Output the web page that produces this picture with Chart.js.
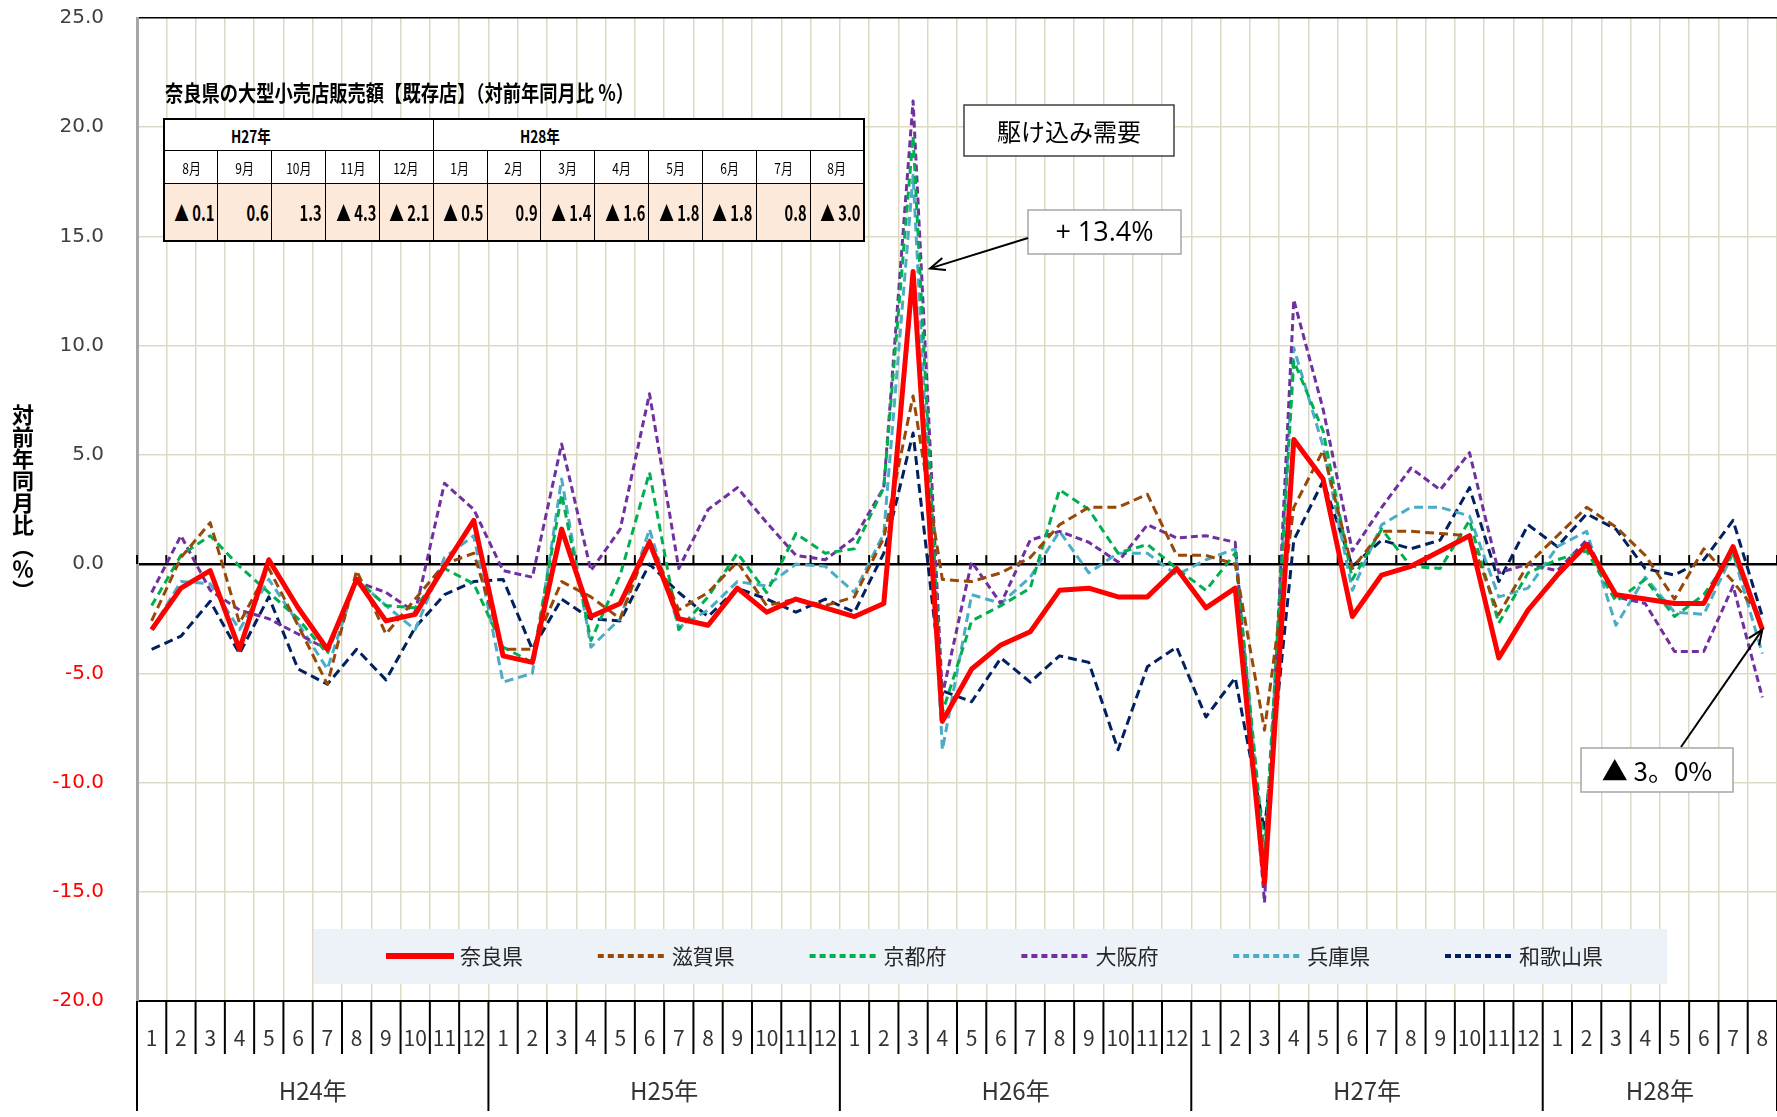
<!DOCTYPE html>
<html lang="ja">
<head>
<meta charset="utf-8">
<script src="https://cdn.jsdelivr.net/npm/chart.js@4.4.1/dist/chart.umd.min.js"></script>
<style>
  html, body { margin: 0; padding: 0; background: #fff; }
  #wrap { position: relative; width: 1777px; height: 1117px; overflow: hidden; }
  #chart { position: absolute; left: 0; top: 0; }
  #ytitle {
    position: absolute; left: 11px; top: 404px;
    writing-mode: vertical-rl; font: bold 22px "Noto Sans CJK JP"; color: #000;
    line-height: 24px;
  }
  #tblTitle {
    position: absolute; left: 165px; top: 75px; white-space: nowrap;
    font: bold 22px "Noto Sans CJK JP"; color: #000;
    transform: scaleX(0.83); transform-origin: left center;
  }
  #tbl {
    position: absolute; left: 163px; top: 118px; width: 702px;
    border-collapse: collapse; table-layout: fixed; border: 2px solid #000;
  }
  #tbl td {
    border: 1.5px solid #000; padding: 0; white-space: nowrap; overflow: hidden;
    font-family: "Noto Sans CJK JP"; color: #000; background: #fff; position: relative;
  }
  #tbl td span { display: inline-block; }
  #tbl tr.yr td { height: 30px; font-weight: bold; font-size: 17px; text-align: left; }
  #tbl tr.yr td span { transform: scaleX(0.8); transform-origin: left center; }
  #tbl tr.mo td { height: 32px; font-size: 15px; text-align: center; }
  #tbl tr.mo td span { transform: scaleX(0.8); }
  #tbl tr.val td { height: 56px; font-weight: bold; font-size: 21px; background: #fde9d9; }
  #tbl tr.val td span {
    position: absolute; right: 3px; top: 50%;
    transform: translateY(-50%) scaleX(0.7); transform-origin: right center;
  }
</style>
</head>
<body>
<div id="wrap">
  <canvas id="chart" width="1777" height="1117"></canvas>
  <div id="ytitle">対前年同月比（％）</div>
  <div id="tblTitle">奈良県の大型小売店販売額【既存店】（対前年同月比 %）</div>
  <table id="tbl"></table>
</div>
<script>
// --- DATA ---
const yearNames = ['H24年', 'H25年', 'H26年', 'H27年', 'H28年'];
const monthsInYear = [12, 12, 12, 12, 8];
const monthLabels = [
    '1', '2', '3', '4', '5', '6', '7', '8', '9', '10', '11', '12',
    '1', '2', '3', '4', '5', '6', '7', '8', '9', '10', '11', '12',
    '1', '2', '3', '4', '5', '6', '7', '8', '9', '10', '11', '12',
    '1', '2', '3', '4', '5', '6', '7', '8', '9', '10', '11', '12',
    '1', '2', '3', '4', '5', '6', '7', '8'
];

const nara = [
    -3.0, -1.1, -0.3, -3.9, 0.2, -2.0, -3.9, -0.7, -2.6, -2.3, -0.1, 2.0,
    -4.2, -4.5, 1.6, -2.4, -1.8, 1.0, -2.5, -2.8, -1.1, -2.2, -1.6, -2.0,
    -2.4, -1.8, 13.4, -7.2, -4.8, -3.7, -3.1, -1.2, -1.1, -1.5, -1.5, -0.2,
    -2.0, -1.1, -14.6, 5.7, 3.9, -2.4, -0.5, -0.1, 0.6, 1.3, -4.3, -2.1,
    -0.5, 0.9, -1.4, -1.6, -1.8, -1.8, 0.8, -3.0
];
const shiga = [
    -2.6, 0.3, 1.9, -2.7, -0.2, -2.8, -5.5, -0.3, -3.2, -1.6, 0.0, 0.5,
    -3.9, -3.9, -0.8, -1.5, -2.5, 1.1, -2.1, -1.3, 0.1, -1.9, -1.6, -1.9,
    -1.5, 1.2, 7.7, -0.7, -0.8, -0.4, 0.3, 1.8, 2.6, 2.6, 3.2, 0.4,
    0.4, 0.0, -7.6, 2.6, 5.2, -0.2, 1.5, 1.5, 1.4, 1.3, -2.3, 0.0,
    1.3, 2.6, 1.7, 0.4, -1.6, 0.7, -0.8, -2.5
];
const kyoto = [
    -1.9, 0.4, 1.3, -0.1, -1.3, -2.5, -4.1, -0.7, -1.9, -2.0, -0.2, -0.9,
    -3.8, -4.5, 3.2, -3.5, -0.5, 4.2, -3.0, -1.5, 0.5, -1.3, 1.4, 0.5,
    0.7, 3.5, 19.6, -6.8, -2.6, -1.9, -1.1, 3.4, 2.5, 0.5, 0.9, -0.2,
    -1.2, 0.5, -13.3, 9.3, 6.1, -0.7, 1.6, -0.1, -0.2, 2.0, -2.7, -0.4,
    0.2, 0.6, -1.7, -0.7, -2.4, -1.4, 0.5, -3.0
];
const osaka = [
    -1.3, 1.3, -1.2, -2.1, -2.5, -3.2, -3.9, -0.8, -1.3, -2.2, 3.7, 2.5,
    -0.3, -0.6, 5.5, -0.3, 1.6, 7.8, -0.2, 2.5, 3.5, 1.9, 0.4, 0.2,
    1.2, 3.5, 21.2, -6.0, 0.1, -1.8, 1.1, 1.5, 1.0, 0.1, 1.8, 1.2,
    1.3, 1.0, -15.5, 12.1, 7.1, 0.6, 2.6, 4.4, 3.4, 5.1, -0.4, 0.0,
    -0.3, 1.1, -1.5, -1.8, -4.0, -4.0, -1.0, -6.1
];
const hyogo = [
    -3.0, -0.8, -0.9, -3.0, -0.7, -2.7, -4.8, -0.7, -1.9, -3.0, 0.3, 1.3,
    -5.4, -5.0, 3.9, -3.8, -2.5, 1.6, -2.9, -2.1, -0.8, -1.0, 0.0, -0.1,
    -1.3, 1.4, 17.8, -8.5, -1.4, -1.8, -0.6, 1.5, -0.4, 0.5, 0.5, -0.5,
    0.2, 0.7, -13.9, 9.9, 5.4, -1.2, 1.8, 2.6, 2.6, 2.2, -1.5, -1.1,
    0.8, 1.5, -2.8, -0.6, -2.2, -2.3, 0.5, -4.1
];
const wakayama = [
    -3.9, -3.3, -1.7, -4.1, -1.5, -4.8, -5.5, -3.9, -5.3, -2.9, -1.4, -0.8,
    -0.7, -3.9, -1.6, -2.5, -2.6, 0.0, -1.3, -2.4, -1.1, -1.6, -2.2, -1.6,
    -2.2, 0.5, 6.0, -5.8, -6.3, -4.3, -5.4, -4.2, -4.5, -8.5, -4.7, -3.8,
    -7.0, -5.2, -12.2, 1.1, 3.8, -0.1, 1.1, 0.7, 1.1, 3.5, -0.8, 1.8,
    0.8, 2.3, 1.6, -0.2, -0.5, 0.2, 2.0, -2.4
];

// table in the upper left: last 13 months of 奈良県
const tableYears = ['H27年', 'H28年'];
const tableYearSpans = [5, 8];
const tableMonths = ['8月', '9月', '10月', '11月', '12月', '1月', '2月', '3月', '4月', '5月', '6月', '7月', '8月'];
const tableValues = nara.slice(-13);

// --- TABLE ---
function buildTable() {
    const tbl = document.getElementById('tbl');
    const pads = [66, 86];
    let html = '<tr class="yr">';
    tableYears.forEach((y, i) => {
        html += `<td colspan="${tableYearSpans[i]}" style="padding-left:${pads[i]}px"><span>${y}</span></td>`;
    });
    html += '</tr><tr class="mo">';
    tableMonths.forEach(m => { html += `<td><span>${m}</span></td>`; });
    html += '</tr><tr class="val">';
    tableValues.forEach(v => {
        const txt = v < 0 ? '▲ ' + Math.abs(v).toFixed(1) : v.toFixed(1);
        html += `<td><span>${txt}</span></td>`;
    });
    html += '</tr>';
    tbl.innerHTML = html;
}

// --- EXTRA DRAWING: axis separators, year labels, legend, callouts ---
function arrow(ctx, x1, y1, x2, y2) {
    const ang = Math.atan2(y2 - y1, x2 - x1);
    ctx.beginPath();
    ctx.moveTo(x1, y1);
    ctx.lineTo(x2, y2);
    ctx.stroke();
    ctx.beginPath();
    ctx.moveTo(x2 - 16 * Math.cos(ang - 0.4), y2 - 16 * Math.sin(ang - 0.4));
    ctx.lineTo(x2, y2);
    ctx.lineTo(x2 - 16 * Math.cos(ang + 0.4), y2 - 16 * Math.sin(ang + 0.4));
    ctx.stroke();
}

function box(ctx, x, y, w, h, border, text, font) {
    ctx.fillStyle = '#fff';
    ctx.fillRect(x, y, w, h);
    ctx.strokeStyle = border;
    ctx.lineWidth = 1.5;
    ctx.strokeRect(x, y, w, h);
    ctx.fillStyle = '#000';
    ctx.font = font;
    ctx.textAlign = 'center';
    ctx.textBaseline = 'middle';
    ctx.fillText(text, x + w / 2, y + h / 2 + 1);
}

const extras = {
    id: 'extras',
    beforeDatasetsDraw(chart) {
        const { ctx, chartArea: a, scales: { y } } = chart;
        const step = (a.right - a.left) / monthLabels.length;
        const y0 = y.getPixelForValue(0);
        ctx.save();
        ctx.strokeStyle = '#000';
        ctx.lineWidth = 2;
        for (let k = 0; k <= monthLabels.length; k++) {
            const bx = a.left + k * step;
            ctx.beginPath();
            ctx.moveTo(bx, y0);
            ctx.lineTo(bx, y0 - 9);
            ctx.stroke();
        }
        ctx.restore();
    },
    afterDatasetsDraw(chart) {
        const { ctx, chartArea: a, scales: { x, y } } = chart;
        const step = (a.right - a.left) / monthLabels.length;
        ctx.save();

        // month / year separators below the plot
        const yearEdges = [0];
        monthsInYear.forEach(m => yearEdges.push(yearEdges[yearEdges.length - 1] + m));
        ctx.strokeStyle = '#000';
        ctx.lineWidth = 2;
        for (let k = 0; k <= monthLabels.length; k++) {
            const bx = a.left + k * step;
            const len = yearEdges.includes(k) ? 110 : 53;
            ctx.beginPath();
            ctx.moveTo(bx, a.bottom);
            ctx.lineTo(bx, a.bottom + len);
            ctx.stroke();
        }
        ctx.fillStyle = '#333';
        ctx.font = '24px "Noto Sans CJK JP"';
        ctx.textAlign = 'center';
        ctx.textBaseline = 'middle';
        yearNames.forEach((name, i) => {
            const cx = a.left + (yearEdges[i] + yearEdges[i + 1]) / 2 * step;
            ctx.fillText(name, cx, a.bottom + 90);
        });

        // legend
        ctx.fillStyle = '#edf1f8';
        ctx.fillRect(314, 929, 1353, 55);
        chart.data.datasets.forEach((ds, i) => {
            const lx = 386 + i * 211.8;
            const ly = 956;
            ctx.strokeStyle = ds.borderColor;
            ctx.lineWidth = i === 0 ? 6 : 4;
            ctx.setLineDash(i === 0 ? [] : [6, 4]);
            ctx.beginPath();
            ctx.moveTo(lx, ly);
            ctx.lineTo(lx + 68, ly);
            ctx.stroke();
            ctx.setLineDash([]);
            ctx.fillStyle = '#262626';
            ctx.font = '21px "Noto Sans CJK JP"';
            ctx.textAlign = 'left';
            ctx.fillText(ds.label, lx + 74, ly);
        });

        // callouts
        box(ctx, 964, 105, 210, 51, '#404040', '駆け込み需要', '24px "Noto Sans CJK JP"');
        box(ctx, 1028, 210, 153, 44, '#a6a6a6', '+ 13.4%', '27px "Open Sans"');
        box(ctx, 1581, 748, 152, 44, '#a6a6a6', '▲ 3。0%', '26px "Noto Sans CJK JP"');
        ctx.strokeStyle = '#000';
        ctx.lineWidth = 2;
        const peak = nara.indexOf(Math.max(...nara));
        arrow(ctx, 1028, 238, x.getPixelForValue(peak) + 17, y.getPixelForValue(nara[peak]) - 3);
        const last = nara.length - 1;
        arrow(ctx, 1681, 747, x.getPixelForValue(last), y.getPixelForValue(nara[last]));

        ctx.restore();
    }
};

// --- CHART ---
function makeSeries(label, data, color, width, dash) {
    return {
        label: label,
        data: data,
        borderColor: color,
        backgroundColor: color,
        borderWidth: width,
        borderDash: dash,
        borderJoinStyle: 'round',
        pointRadius: 0,
        tension: 0,
        fill: false
    };
}

function renderChart() {
    const ctx = document.getElementById('chart').getContext('2d');
    new Chart(ctx, {
        type: 'line',
        data: {
            labels: monthLabels,
            datasets: [
                makeSeries('奈良県', nara, '#ff0000', 5, []),
                makeSeries('滋賀県', shiga, '#984807', 3, [9, 5]),
                makeSeries('京都府', kyoto, '#00b050', 3, [8, 5]),
                makeSeries('大阪府', osaka, '#7030a0', 3, [7, 4]),
                makeSeries('兵庫県', hyogo, '#4bacc6', 3, [9, 5]),
                makeSeries('和歌山県', wakayama, '#002060', 3, [9, 5])
            ]
        },
        options: {
            responsive: false,
            animation: false,
            devicePixelRatio: 1,
            layout: { padding: { top: 18, left: 0, right: 0, bottom: 0 } },
            plugins: { legend: { display: false }, tooltip: { enabled: false } },
            scales: {
                x: {
                    type: 'category',
                    offset: true,
                    grid: { offset: true, color: '#ddd9c3', lineWidth: 1.5, drawTicks: false },
                    border: { display: true, color: '#000', width: 2 },
                    ticks: {
                        autoSkip: false, maxRotation: 0, minRotation: 0, padding: 24,
                        color: '#333', font: { family: '"Noto Sans CJK JP"', size: 21 }
                    },
                    afterFit: (s) => { s.height = 116; s.paddingLeft = 0; s.paddingRight = 0; }
                },
                y: {
                    min: -20,
                    max: 25,
                    ticks: {
                        stepSize: 5,
                        padding: 33,
                        color: (c) => (c.tick && c.tick.value < 0 ? '#ff0000' : '#404040'),
                        font: { family: '"DejaVu Sans"', size: 20 },
                        callback: (v) => v.toFixed(1)
                    },
                    grid: {
                        drawTicks: false,
                        color: (c) => (c.tick && [0, 25, -20].includes(c.tick.value) ? '#000' : '#ddd9c3'),
                        lineWidth: (c) => (c.tick && c.tick.value === 0 ? 2.5 : 1.5)
                    },
                    border: { color: '#a6a6a6', width: 3 },
                    afterFit: (s) => { s.width = 137; s.paddingTop = 0; s.paddingBottom = 0; }
                }
            }
        },
        plugins: [extras]
    });
}

buildTable();
renderChart();
</script>
</body>
</html>
